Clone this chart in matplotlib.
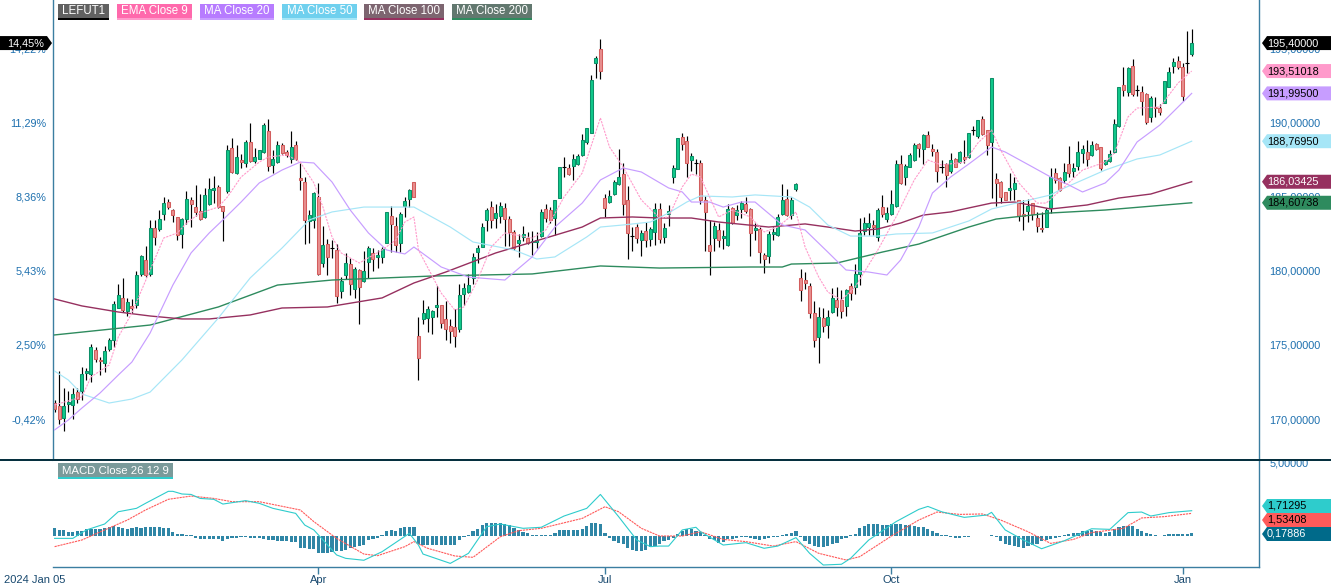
import matplotlib
matplotlib.use('Agg')
import matplotlib.pyplot as plt
from matplotlib.patches import Polygon, Rectangle

plt.rcParams['font.family'] = ['Liberation Sans', 'DejaVu Sans']

W, H = 1331, 587

# candles, G up, R down, D open == close
candle_dir = ("RRGGGRGGGR" "RGGGGRGRGG" "RGRGGRRRGG" "RRRGGGRRGR" "GRGRGGGRGG"
              "RRGRRRGGRG" "RDRGGRGRGG" "RGGGRRGGGR" "RGGGGRRRRG" "GGGGGGRGGR"
              "RRGGRGGGRR" "GGDRGGGGGG" "RRGGGRRDRG" "RGGRGGGGRR" "GDRRRGRGGR"
              "GGRRGRRGGG" "GRGGRRRRGR" "GGRRGRGGGG" "RGRGGGRGGG" "RGRRRDRGRG"
              "RGDGRRGRRR" "GGRRGRRRGG" "RRGRGGGRGR" "RGGGGRGRDR" "RGRRGGGRRD" "G")

body_top = [
    171.06, 170.88, 170.88, 171.13, 171.67, 171.81, 173.02, 173.25, 174.85, 174.64,
    173.99, 174.58, 175.32, 177.75, 178.36, 178.16, 177.89, 177.62, 179.71, 180.99,
    180.72, 182.88, 182.93, 183.49, 184.57, 184.66, 184.12, 183.63, 183.49, 184.84,
    184.80, 184.30, 184.03, 185.11, 185.52, 185.59, 185.65, 184.39, 188.15, 188.29,
    187.68, 187.48, 188.69, 188.74, 187.68, 188.15, 189.84, 189.44, 187.57, 188.49,
    188.49, 188.06, 188.36, 188.49, 186.26, 185.99, 183.76, 185.25, 184.98, 181.74,
    181.83, 181.54, 181.42, 179.33, 180.52, 180.45, 180.12, 180.05, 180.00, 181.54,
    181.20, 181.06, 181.46, 183.98, 183.71, 183.04, 183.83, 184.70, 185.45, 185.99,
    175.58, 177.14, 177.41, 177.30, 177.70, 177.68, 176.73, 176.26, 176.19, 178.35,
    178.83, 179.03, 180.92, 181.55, 182.95, 184.10, 184.30, 183.92, 184.37, 184.23,
    183.49, 182.61, 182.07, 182.48, 182.21, 182.02, 182.07, 183.96, 184.16, 184.10,
    184.79, 187.00, 187.00, 186.96, 187.54, 187.74, 188.83, 189.64, 192.88, 194.37,
    194.97, 184.91, 185.04, 185.99, 186.33, 186.53, 184.77, 182.36, 182.95, 182.54,
    182.68, 182.81, 184.16, 184.16, 182.88, 184.03, 186.98, 188.96, 189.03, 188.76,
    187.75, 187.27, 187.27, 184.82, 181.73, 183.02, 182.75, 182.39, 184.21, 184.26,
    184.14, 184.57, 184.55, 184.17, 182.88, 182.82, 181.06, 182.50, 182.66, 183.63,
    184.77, 184.84, 184.77, 185.86, 179.51, 179.37, 178.96, 177.19, 176.92, 176.80,
    176.87, 178.15, 178.02, 178.02, 178.74, 178.96, 179.82, 182.55, 183.22, 183.22,
    183.11, 184.14, 184.30, 183.90, 184.50, 187.21, 187.21, 187.07, 187.86, 188.54,
    188.56, 189.21, 189.17, 188.22, 188.02, 187.00, 187.25, 187.48, 187.59, 188.02,
    187.68, 189.30, 189.50, 190.18, 190.25, 189.51, 193.02, 186.20, 186.02, 185.32,
    185.59, 185.93, 184.78, 183.83, 184.39, 184.62, 183.56, 182.91, 184.12, 186.38,
    186.60, 186.31, 186.67, 187.21, 186.94, 188.02, 188.22, 188.02, 188.49, 188.56,
    188.38, 187.48, 187.88, 189.91, 192.41, 192.55, 193.69, 193.83, 192.21, 192.07,
    191.98, 191.67, 191.11, 191.00, 192.82, 193.42, 194.10, 194.17, 193.76, 194.03, 195.38,
]
body_bot = [
    170.70, 169.98, 170.10, 171.04, 170.93, 171.38, 171.92, 173.14, 173.02, 174.04,
    173.90, 173.81, 174.71, 175.32, 177.53, 177.35, 177.32, 177.53, 177.73, 179.78,
    179.71, 179.78, 182.28, 182.82, 183.87, 184.35, 183.81, 182.44, 182.48, 183.52,
    184.55, 183.96, 183.49, 183.67, 184.53, 185.50, 184.30, 184.03, 185.41, 186.71,
    186.64, 187.34, 187.28, 187.46, 187.46, 187.59, 188.06, 187.07, 187.19, 187.34,
    188.00, 187.84, 187.55, 187.59, 186.17, 183.45, 183.38, 183.45, 179.82, 180.57,
    180.97, 181.54, 178.34, 178.68, 179.73, 179.15, 178.81, 178.95, 179.35, 180.59,
    180.84, 180.97, 180.97, 181.87, 183.20, 181.76, 181.87, 184.41, 184.88, 184.97,
    174.14, 176.78, 176.80, 176.91, 177.59, 176.46, 176.10, 175.97, 175.63, 176.10,
    178.47, 178.56, 179.50, 181.30, 181.64, 183.44, 183.47, 183.60, 183.74, 183.53,
    182.66, 181.53, 181.87, 182.30, 181.87, 181.93, 181.93, 182.39, 183.60, 183.47,
    183.60, 184.95, 187.00, 186.57, 187.11, 187.25, 187.86, 188.74, 189.30, 194.03,
    193.49, 184.28, 184.64, 185.22, 185.85, 184.50, 182.54, 182.36, 182.25, 182.07,
    182.12, 182.14, 182.61, 182.18, 182.28, 183.83, 186.33, 186.87, 188.56, 187.27,
    187.48, 187.27, 184.80, 183.96, 181.33, 182.21, 182.07, 182.21, 181.78, 183.27,
    183.78, 184.19, 184.03, 182.55, 182.75, 181.26, 180.79, 180.99, 182.50, 182.41,
    183.83, 183.76, 183.76, 185.52, 178.70, 179.17, 177.14, 175.32, 175.52, 176.26,
    176.33, 177.21, 177.55, 177.28, 177.61, 178.49, 178.90, 179.78, 182.73, 183.00,
    183.00, 182.32, 183.85, 183.49, 183.85, 184.39, 185.97, 186.33, 187.05, 187.48,
    188.29, 188.22, 188.40, 188.13, 186.73, 187.00, 186.46, 186.73, 187.03, 187.36,
    187.54, 187.68, 189.50, 189.10, 189.26, 188.52, 188.70, 185.97, 185.03, 184.82,
    185.47, 185.52, 183.72, 183.70, 184.03, 183.85, 183.07, 182.82, 183.00, 184.26,
    186.15, 185.47, 186.15, 186.60, 186.78, 187.12, 188.00, 187.59, 187.86, 188.27,
    186.98, 187.21, 187.41, 188.06, 189.82, 192.25, 192.12, 191.98, 192.21, 191.51,
    190.09, 190.41, 191.00, 190.77, 191.38, 192.46, 193.87, 193.81, 191.85, 194.03, 194.69,
]
highs = [
    171.29, 173.27, 172.12, 171.90, 172.08, 172.12, 173.52, 173.47, 175.05, 174.89,
    174.22, 174.94, 175.46, 177.98, 179.13, 179.51, 178.16, 178.11, 180.03, 181.08,
    181.69, 183.45, 183.45, 184.12, 184.98, 184.87, 184.17, 183.67, 183.60, 185.41,
    185.02, 185.81, 185.20, 185.59, 186.26, 186.44, 185.79, 184.39, 188.51, 188.96,
    188.51, 187.91, 188.85, 189.98, 188.29, 188.18, 189.98, 190.25, 188.18, 188.78,
    188.63, 188.18, 189.46, 188.81, 187.28, 186.37, 184.12, 185.36, 185.97, 183.04,
    182.14, 182.10, 181.83, 179.62, 181.24, 180.90, 180.30, 180.12, 181.36, 181.69,
    181.54, 181.42, 181.60, 183.98, 184.39, 183.67, 184.01, 185.02, 185.56, 185.99,
    176.87, 178.04, 177.63, 177.36, 178.99, 177.70, 178.00, 176.73, 177.41, 179.12,
    179.16, 179.80, 181.19, 181.75, 183.26, 184.23, 184.73, 184.52, 184.64, 184.57,
    183.71, 182.77, 182.50, 183.04, 182.66, 182.72, 182.63, 184.19, 184.52, 184.34,
    184.79, 187.00, 187.70, 187.20, 187.90, 187.90, 189.23, 189.64, 193.24, 194.52,
    195.67, 185.20, 185.47, 186.15, 188.22, 187.27, 185.74, 182.99, 183.15, 182.77,
    183.33, 182.99, 184.57, 184.57, 183.27, 184.46, 187.16, 188.96, 189.35, 189.12,
    187.95, 187.54, 187.50, 185.07, 183.45, 183.33, 183.22, 182.77, 184.50, 184.35,
    184.46, 184.75, 185.02, 184.23, 183.27, 183.00, 181.24, 182.68, 183.00, 183.83,
    185.88, 185.52, 184.98, 185.97, 180.11, 179.93, 179.17, 177.95, 177.55, 177.50,
    177.37, 178.83, 178.90, 178.72, 178.76, 179.17, 180.47, 183.56, 183.63, 183.90,
    183.45, 184.28, 185.11, 184.30, 185.47, 187.50, 187.84, 187.21, 187.95, 188.67,
    188.63, 189.26, 189.46, 188.58, 188.24, 187.50, 187.27, 187.95, 187.61, 188.11,
    188.85, 189.35, 189.80, 190.18, 190.47, 189.53, 193.02, 186.65, 186.11, 185.36,
    186.60, 186.38, 184.80, 184.80, 184.84, 184.62, 184.01, 184.01, 184.24, 186.94,
    186.94, 186.38, 187.28, 188.45, 187.28, 188.79, 188.52, 188.85, 188.81, 188.63,
    188.38, 187.50, 188.18, 190.25, 192.46, 193.81, 193.81, 194.30, 192.57, 192.50,
    192.00, 191.83, 191.78, 191.29, 192.86, 193.81, 194.37, 194.53, 194.03, 196.22, 196.33,
]
lows = [
    170.50, 169.67, 169.22, 170.50, 170.01, 171.06, 171.29, 172.64, 172.53, 173.88,
    172.98, 173.20, 174.62, 174.89, 177.48, 177.26, 176.96, 177.14, 177.50, 179.67,
    179.62, 179.67, 181.76, 182.73, 183.45, 184.17, 183.33, 182.10, 181.54, 183.20,
    183.00, 183.70, 183.45, 183.60, 184.46, 184.60, 184.23, 182.00, 185.25, 186.60,
    186.55, 186.94, 187.05, 187.39, 187.28, 187.55, 188.00, 186.78, 186.64, 187.28,
    187.91, 187.73, 187.32, 187.50, 185.47, 181.83, 181.92, 182.89, 179.73, 180.30,
    179.73, 180.86, 177.82, 178.16, 179.44, 178.38, 178.16, 176.42, 179.28, 179.51,
    180.03, 180.18, 180.52, 181.87, 181.30, 181.30, 181.30, 183.67, 184.34, 184.97,
    172.63, 176.42, 175.90, 175.74, 176.91, 176.12, 175.34, 175.16, 174.89, 175.90,
    177.70, 178.49, 179.12, 180.52, 181.60, 182.70, 182.88, 182.93, 183.26, 181.69,
    181.69, 181.42, 180.92, 182.03, 181.82, 181.06, 181.53, 182.32, 183.33, 183.22,
    182.43, 184.95, 186.37, 186.48, 186.15, 187.16, 187.77, 188.58, 189.30, 193.01,
    192.97, 183.62, 184.57, 185.13, 185.81, 183.78, 180.81, 181.37, 181.87, 181.01,
    181.64, 181.69, 181.75, 181.87, 181.87, 183.06, 185.97, 186.87, 188.18, 186.37,
    186.76, 186.55, 184.53, 181.37, 179.75, 181.37, 181.64, 181.49, 181.71, 183.18,
    183.45, 183.56, 183.90, 181.04, 182.10, 180.52, 179.84, 180.52, 182.10, 182.39,
    183.78, 183.74, 183.49, 185.43, 178.00, 178.76, 176.80, 174.89, 173.76, 175.90,
    175.50, 177.19, 176.96, 176.85, 176.98, 178.04, 178.45, 179.05, 182.43, 182.43,
    182.43, 182.05, 183.67, 183.33, 183.76, 184.35, 185.88, 185.81, 187.00, 187.43,
    187.68, 187.23, 188.36, 187.77, 186.04, 186.60, 185.65, 186.64, 187.00, 187.27,
    187.27, 187.61, 189.19, 189.01, 189.19, 187.84, 184.91, 184.39, 184.57, 184.80,
    184.80, 184.80, 183.38, 182.77, 183.34, 183.45, 182.66, 182.61, 182.95, 183.90,
    185.93, 185.43, 185.93, 186.38, 186.33, 186.83, 187.28, 187.10, 187.77, 188.18,
    186.83, 187.16, 187.39, 187.95, 189.71, 191.83, 191.83, 191.83, 191.83, 190.54,
    189.93, 190.07, 190.43, 190.54, 191.33, 192.41, 193.40, 193.63, 191.49, 193.40, 194.53,
]

# moving averages, bar number and value
ema9_bar = [0, 6, 8, 12, 14, 17, 21, 24, 27, 29, 32, 36, 38, 41, 45, 47, 51, 54, 57, 59, 61, 63, 67, 72, 75, 77, 79,
            80, 85, 88, 90, 93, 96, 99, 105, 108, 112, 116, 120, 122, 125, 129, 133, 135, 138, 140, 142, 146, 149,
            153, 156, 159, 163, 165, 168, 170, 173, 176, 181, 185, 189, 192, 195, 200, 203, 206, 208, 212, 216, 218,
            222, 226, 231, 233, 236, 238, 243, 247, 250]
ema9 = [170.95, 171.49, 172.84, 173.65, 175.54, 177.16, 180.07, 182.23, 182.57, 183.24, 183.92, 184.32, 185.00,
        186.35, 187.36, 187.70, 187.84, 187.36, 185.95, 184.32, 182.30, 181.22, 180.54, 181.42, 182.09, 183.31, 183.65,
        181.42, 178.51, 177.36, 177.57, 179.39, 181.62, 182.57, 182.23, 182.77, 185.00, 186.62, 190.34, 188.38, 187.03,
        184.80, 183.58, 183.65, 185.68, 186.55, 186.35, 183.65, 184.12, 183.65, 182.64, 182.97, 183.99, 181.62, 179.59,
        178.58, 178.04, 178.92, 181.42, 183.65, 186.15, 187.50, 187.16, 187.36, 188.65, 189.53, 188.18, 185.95, 184.59,
        184.59, 185.68, 186.82, 187.36, 187.97, 190.41, 191.01, 191.08, 192.70, 193.51]

ma20_bar = [0, 3, 6, 10, 14, 17, 21, 26, 30, 34, 37, 41, 45, 50, 54, 57, 61, 65, 69, 73, 77, 79, 82, 85, 91, 99, 105,
            110, 116, 120, 125, 129, 135, 138, 140, 144, 147, 151, 154, 160, 165, 170, 174, 179, 183, 186, 190, 193,
            197, 201, 206, 209, 215, 219, 223, 226, 231, 234, 238, 243, 247, 250]
ma20 = [169.26, 169.93, 170.74, 171.76, 172.97, 173.85, 175.81, 179.05, 181.22, 182.57, 183.45, 184.66, 185.95, 186.82,
        187.36, 187.30, 186.01, 184.12, 182.57, 181.42, 181.15, 181.62, 180.95, 180.27, 179.59, 179.39, 180.95, 182.97,
        184.59, 186.15, 186.96, 186.69, 185.61, 185.34, 184.66, 184.66, 184.32, 184.66, 184.66, 183.11, 182.77, 181.28,
        180.07, 179.93, 179.73, 180.74, 182.97, 185.27, 186.35, 187.23, 188.38, 188.04, 187.03, 186.35, 185.81, 185.34,
        185.95, 186.82, 188.72, 189.86, 191.08, 192.00]

ma50_bar = [0, 3, 6, 12, 17, 21, 28, 36, 43, 50, 56, 61, 68, 79, 87, 92, 101, 106, 110, 117, 120, 125, 131, 135, 139,
            142, 149, 154, 162, 166, 170, 175, 181, 185, 193, 201, 206, 219, 221, 231, 238, 243, 250]
ma50 = [173.24, 172.64, 171.69, 171.08, 171.35, 171.82, 173.99, 176.82, 179.53, 181.55, 183.45, 183.99, 184.32, 184.32,
        182.97, 181.96, 181.42, 180.81, 180.95, 182.30, 182.97, 183.11, 183.31, 183.92, 184.66, 185.07, 185.00, 185.14,
        185.00, 184.32, 183.11, 182.36, 182.36, 182.50, 182.57, 183.38, 184.19, 185.14, 185.47, 186.82, 187.57, 187.84,
        188.77]

ma100_bar = [0, 6, 14, 21, 28, 34, 43, 50, 60, 72, 79, 86, 97, 108, 116, 120, 127, 133, 140, 146, 157, 165, 170, 176,
             181, 186, 191, 197, 201, 206, 211, 219, 227, 234, 241, 250]
ma100 = [178.11, 177.64, 177.23, 176.96, 176.76, 176.76, 177.03, 177.50, 177.57, 178.18, 179.19, 179.93, 181.22,
         182.23, 182.97, 183.58, 183.65, 183.58, 183.58, 183.31, 182.97, 183.18, 182.97, 182.70, 182.84, 183.24, 183.78,
         183.99, 184.26, 184.59, 184.66, 184.19, 184.46, 184.93, 185.20, 186.03]

ma200_bar = [0, 21, 36, 49, 61, 83, 105, 120, 133, 153, 160, 162, 172, 182, 190, 201, 207, 219, 231, 250]
ma200 = [175.68, 176.35, 177.57, 179.05, 179.39, 179.66, 179.80, 180.34, 180.20, 180.27, 180.27, 180.47, 180.54,
         181.28, 181.82, 182.97, 183.51, 183.92, 184.12, 184.61]

# MACD panel
macd_bar = [0, 4, 7, 11, 14, 18, 20, 25, 26, 28, 30, 32, 35, 37, 42, 45, 48, 53, 55, 57, 62, 64, 68, 72, 78, 80, 81, 87,
            91, 95, 98, 103, 107, 112, 117, 120, 124, 128, 131, 133, 135, 138, 141, 142, 147, 152, 156, 159, 163, 166,
            169, 173, 175, 179, 185, 190, 192, 195, 200, 205, 206, 209, 213, 217, 222, 228, 232, 236, 239, 241, 245, 250]
macd = [-0.16, -0.16, 0.41, 0.81, 1.64, 1.87, 2.21, 3.02, 3.02, 2.84, 2.81, 2.54, 2.48, 2.16, 2.39, 2.21, 1.87, 1.53,
        0.74, 0.41, -1.28, -1.51, -1.64, -1.06, 0.18, -0.61, -1.22, -1.85, -1.17, 0.63, 0.81, 0.52, 0.59, 1.35, 1.87,
        2.81, 1.31, -0.27, -0.72, -0.68, -0.68, 0.41, 0.59, 0.29, -0.61, -0.45, -0.83, -0.68, -0.11, -1.17, -1.96,
        -1.91, -1.51, -0.27, 0.97, 1.80, 2.00, 1.64, 1.26, 1.42, 1.60, 0.41, -0.27, -0.86, -0.32, 0.49, 0.45, 1.58,
        1.62, 1.35, 1.58, 1.71]
signal_bar = [0, 6, 11, 16, 20, 25, 30, 35, 39, 45, 54, 57, 62, 68, 71, 77, 79, 82, 88, 92, 98, 102, 107, 116, 121, 124,
              129, 133, 138, 142, 147, 152, 158, 163, 168, 174, 177, 184, 190, 194, 199, 204, 208, 214, 219, 224, 228,
              235, 239, 244, 250]
signal = [-0.72, -0.27, 0.41, 1.08, 1.76, 2.48, 2.70, 2.54, 2.32, 2.32, 1.76, 0.97, -0.16, -1.22, -1.33, -0.72, -0.38,
          -0.83, -1.35, -1.44, -0.05, 0.36, 0.52, 1.19, 1.98, 1.64, 0.52, 0.00, 0.00, 0.29, -0.23, -0.38, -0.68, -0.38,
          -1.17, -1.62, -1.40, 0.00, 1.08, 1.62, 1.46, 1.49, 1.08, 0.29, -0.50, -0.23, 0.23, 0.52, 1.22, 1.31, 1.53]
hist = [
    0.56, 0.43, 0.38, 0.29, 0.29, 0.32, 0.36, 0.47, 0.50, 0.47, 0.50, 0.54, 0.61, 0.65, 0.63, 0.54, 0.50, 0.54, 0.61, 0.52,
    0.63, 0.63, 0.63, 0.63, 0.56, 0.52, 0.27, 0.16, 0.14, 0.07, 0.05, -0.16, -0.18, -0.18, -0.18, -0.18, -0.23, -0.36, -0.18, -0.11,
    -0.11, -0.09, -0.07, -0.11, -0.16, -0.11, -0.20, -0.29, -0.29, -0.32, -0.34, -0.36, -0.38, -0.38, -0.79, -0.83, -0.86, -0.86, -1.13, -1.13,
    -1.13, -1.08, -1.04, -0.99, -0.95, -0.81, -0.74, -0.68, -0.59, -0.27, -0.18, -0.14, 0.05, 0.36, 0.41, 0.36, 0.54, 0.61, 0.63, 0.63,
    -0.56, -0.61, -0.63, -0.63, -0.63, -0.63, -0.61, -0.59, -0.59, -0.27, -0.09, 0.09, 0.34, 0.45, 0.74, 0.86, 0.90, 0.90, 0.90, 0.81,
    0.72, 0.56, 0.43, 0.27, 0.18, 0.07, 0.05, 0.07, 0.09, 0.09, 0.23, 0.41, 0.41, 0.41, 0.41, 0.43, 0.50, 0.68, 0.86, 0.86,
    0.79, 0.18, -0.11, -0.32, -0.45, -0.56, -0.79, -0.95, -1.04, -1.04, -0.95, -0.77, -0.68, -0.56, -0.34, -0.27, -0.14, 0.14, 0.34, 0.45,
    0.50, 0.34, 0.27, 0.05, -0.18, -0.27, -0.45, -0.41, -0.23, -0.23, -0.14, -0.07, -0.09, -0.14, -0.18, -0.27, -0.23, -0.16, -0.09, -0.05,
    0.09, 0.14, 0.18, 0.32, -0.07, -0.34, -0.56, -0.68, -0.74, -0.74, -0.68, -0.56, -0.45, -0.23, -0.11, 0.05, 0.11, 0.56, 0.68, 0.79,
    0.81, 0.81, 0.77, 0.72, 0.81, 0.81, 0.79, 0.74, 0.72, 0.68, 0.63, 0.63, 0.50, 0.34, 0.18, 0.09, 0.05, -0.07, -0.14, -0.14,
    -0.09, -0.05, -0.02, -0.02, -0.02, 0.02, 0.09, -0.09, -0.34, -0.52, -0.61, -0.68, -0.74, -0.79, -0.68, -0.61, -0.52, -0.34, -0.25, -0.18,
    -0.11, -0.07, 0.05, 0.11, 0.18, 0.23, 0.32, 0.36, 0.38, 0.32, 0.27, 0.20, 0.25, 0.45, 0.59, 0.68, 0.68, 0.68, 0.50, 0.34,
    0.23, 0.11, 0.07, 0.02, 0.07, 0.11, 0.14, 0.14, 0.11, 0.14, 0.18,
]

price_ticks = [170, 175, 180, 185, 190, 195]
price_labels = ['170,00000', '175,00000', '180,00000', '185,00000', '190,00000', '195,00000']
pct_labels = ['-0,42%', '2,50%', '5,43%', '8,36%', '11,29%', '14,22%']
month_bars = [58, 121, 184, 248]
month_labels = ['Apr', 'Jul', 'Oct', 'Jan']

legend_tags = [
    ('LEFUT1', 58, 109, '#616161', '#000000', '#ffffff'),
    ('EMA Close 9', 117, 192, '#ff69ac', '#ff9acb', '#ffffff'),
    ('MA Close 20', 200, 274, '#b77cff', '#c79dff', '#ffffff'),
    ('MA Close 50', 282, 357, '#6fd0ee', '#a6e6f7', '#ffffff'),
    ('MA Close 100', 364, 444, '#7d6570', '#96305f', '#ffffff'),
    ('MA Close 200', 452, 532, '#62786f', '#2e8b5e', '#ffffff'),
]
price_tags = [
    ('195,40000', 195.40, '#000000', '#ffffff'),
    ('193,51018', 193.51, '#ff9acb', '#000000'),
    ('191,99500', 192.00, '#c79dff', '#000000'),
    ('188,76950', 188.77, '#a6e6f7', '#000000'),
    ('186,03425', 186.03, '#96305f', '#ffffff'),
    ('184,60738', 184.61, '#2e8b5e', '#000000'),
]
macd_tags = [
    ('1,71295', 506, '#2ecccc', '#000000'),
    ('1,53408', 520, '#ff5a5a', '#000000'),
    ('0,17886', 534, '#006a8a', '#ffffff'),
]

AXIS_COL = '#3b7ea1'
TEXT_COL = '#1c6fae'
FONT = 8.0

fig = plt.figure(figsize=(W / 100, H / 100), dpi=100, facecolor='white')


def px_axes(x0, y0, x1, y1):
    return fig.add_axes([x0 / W, 1 - y1 / H, (x1 - x0) / W, (y1 - y0) / H])


def tag_box(x0, x1, y0, y1, fill, under):
    fig.add_artist(Rectangle((x0 / W, 1 - y1 / H), (x1 - x0) / W, (y1 - y0) / H,
                             transform=fig.transFigure, fc=fill, ec='none', zorder=5))
    fig.add_artist(Rectangle((x0 / W, 1 - y1 / H), (x1 - x0) / W, 2 / H,
                             transform=fig.transFigure, fc=under, ec='none', zorder=6))


def arrow_tag(x0, x1, y, fill, text, colour, left=True):
    # pointed tag, the tip looks at the axis
    h = 7
    if left:
        pts = [(x0, y), (x0 + 5, y - h), (x1, y - h), (x1, y + h), (x0 + 5, y + h)]
    else:
        pts = [(x1, y), (x1 - 5, y - h), (x0, y - h), (x0, y + h), (x1 - 5, y + h)]
    pts = [(a / W, 1 - b / H) for a, b in pts]
    fig.add_artist(Polygon(pts, closed=True, transform=fig.transFigure, fc=fill, ec='none', zorder=5))
    tx = (x0 + 5 if left else x0 + 7) / W
    fig.text(tx, 1 - y / H, text, color=colour, fontsize=7.8, va='center', ha='left', zorder=7)


# price panel
ax = px_axes(53, 0, 1259, 460)
ax.set_xlim(-0.35, 264.8)
ax.set_ylim(167.23, 198.31)
for i, d in enumerate(candle_dir):
    ax.vlines(i, lows[i], highs[i], color='black', lw=0.85, zorder=1)
    if d == 'D':
        ax.hlines(body_top[i], i - 0.45, i + 0.45, color='black', lw=0.8, zorder=2)
    else:
        fc, ec = ('#11c98a', '#0d8f68') if d == 'G' else ('#e88e8e', '#d25d5d')
        ax.bar(i, body_top[i] - body_bot[i], bottom=body_bot[i], width=0.66, fc=fc, ec=ec, lw=0.75, zorder=2)

ax.plot(ma200_bar, ma200, color='#2e8b5e', lw=1.0, zorder=3)
ax.plot(ma100_bar, ma100, color='#96305f', lw=1.0, zorder=3)
ax.plot(ma50_bar, ma50, color='#a6e6f7', lw=0.85, zorder=3)
ax.plot(ma20_bar, ma20, color='#c79dff', lw=0.85, zorder=3)
ax.plot(ema9_bar, ema9, color='#ff9acb', lw=0.8, ls=(0, (2, 1)), zorder=3)

ax.set_xticks([])
for s in ['top', 'bottom']:
    ax.spines[s].set_visible(False)
for s in ['left', 'right']:
    ax.spines[s].set_color(AXIS_COL)
    ax.spines[s].set_linewidth(1)

axl = ax.twinx()
axl.set_ylim(ax.get_ylim())
axl.yaxis.tick_left()
axl.set_yticks(price_ticks, pct_labels)
axl.tick_params(axis='y', length=0, pad=5, labelsize=7.8, labelcolor=TEXT_COL)
axl.set_xticks([])
for s in axl.spines.values():
    s.set_visible(False)

# twinx moves the ticks of the first axes to the left, so set them after it
ax.yaxis.tick_right()
ax.set_yticks(price_ticks, price_labels)
ax.tick_params(axis='y', length=0, pad=7.5, labelsize=7.8, labelcolor=TEXT_COL)

# MACD panel
ax2 = px_axes(53, 461, 1259, 567)
ax2.set_xlim(ax.get_xlim())
ax2.set_ylim(-2.095, 5.07)
ax2.bar(range(len(hist)), hist, width=0.7, color='#2f86a6', zorder=1)
ax2.plot(signal_bar, signal, color='#ff5a5a', lw=0.8, ls=(0, (2, 0.7)), zorder=2)
ax2.plot(macd_bar, macd, color='#2ecccc', lw=0.8, zorder=3)
ax2.yaxis.tick_right()
ax2.set_yticks([5], ['5,00000'])
ax2.tick_params(axis='y', length=0, pad=7.5, labelsize=7.8, labelcolor=TEXT_COL)
ax2.set_xticks(month_bars, month_labels)
ax2.tick_params(axis='x', length=5, width=1, color=AXIS_COL, pad=1, labelsize=8, labelcolor='#17486e')
for s in ['top', 'left']:
    ax2.spines[s].set_visible(False)
for s in ['right', 'bottom']:
    ax2.spines[s].set_color(AXIS_COL)
    ax2.spines[s].set_linewidth(1)
ax2.annotate('2024 Jan 05', xy=(0, 0), xycoords=('data', 'axes fraction'), xytext=(-36.4, -6),
             textcoords='offset points', fontsize=8, color='#17486e', ha='left', va='top',
             annotation_clip=False)

# dark line between the panels
fig.add_artist(Rectangle((0, 1 - 461 / H), 1, 2 / H, transform=fig.transFigure, fc='#06303f', ec='none', zorder=4))

# legend tags
for name, x0, x1, fill, under, colour in legend_tags:
    tag_box(x0, x1, 4, 20, fill, under)
    fig.text((x0 + x1) / 2 / W, 1 - 11.5 / H, name, color=colour, fontsize=FONT + 0.3, ha='center', va='center', zorder=7)
tag_box(58, 173, 463, 479, '#7a9a9a', '#2ecccc')
fig.text(115.5 / W, 1 - 470.5 / H, 'MACD Close 26 12 9', color='#ffffff', fontsize=FONT + 0.2, ha='center', va='center', zorder=7)

# value tags on both sides
for text, value, fill, colour in price_tags:
    y = H - ax.transData.transform((0, value))[1]
    arrow_tag(1262, 1331, y, fill, text, colour)
y = H - ax.transData.transform((0, 195.40))[1]
arrow_tag(0, 52, y, '#000000', '14,45%', '#ffffff', left=False)
for text, y, fill, colour in macd_tags:
    arrow_tag(1262, 1331, y, fill, text, colour)

fig.savefig('out.png', dpi=100, facecolor='white')
